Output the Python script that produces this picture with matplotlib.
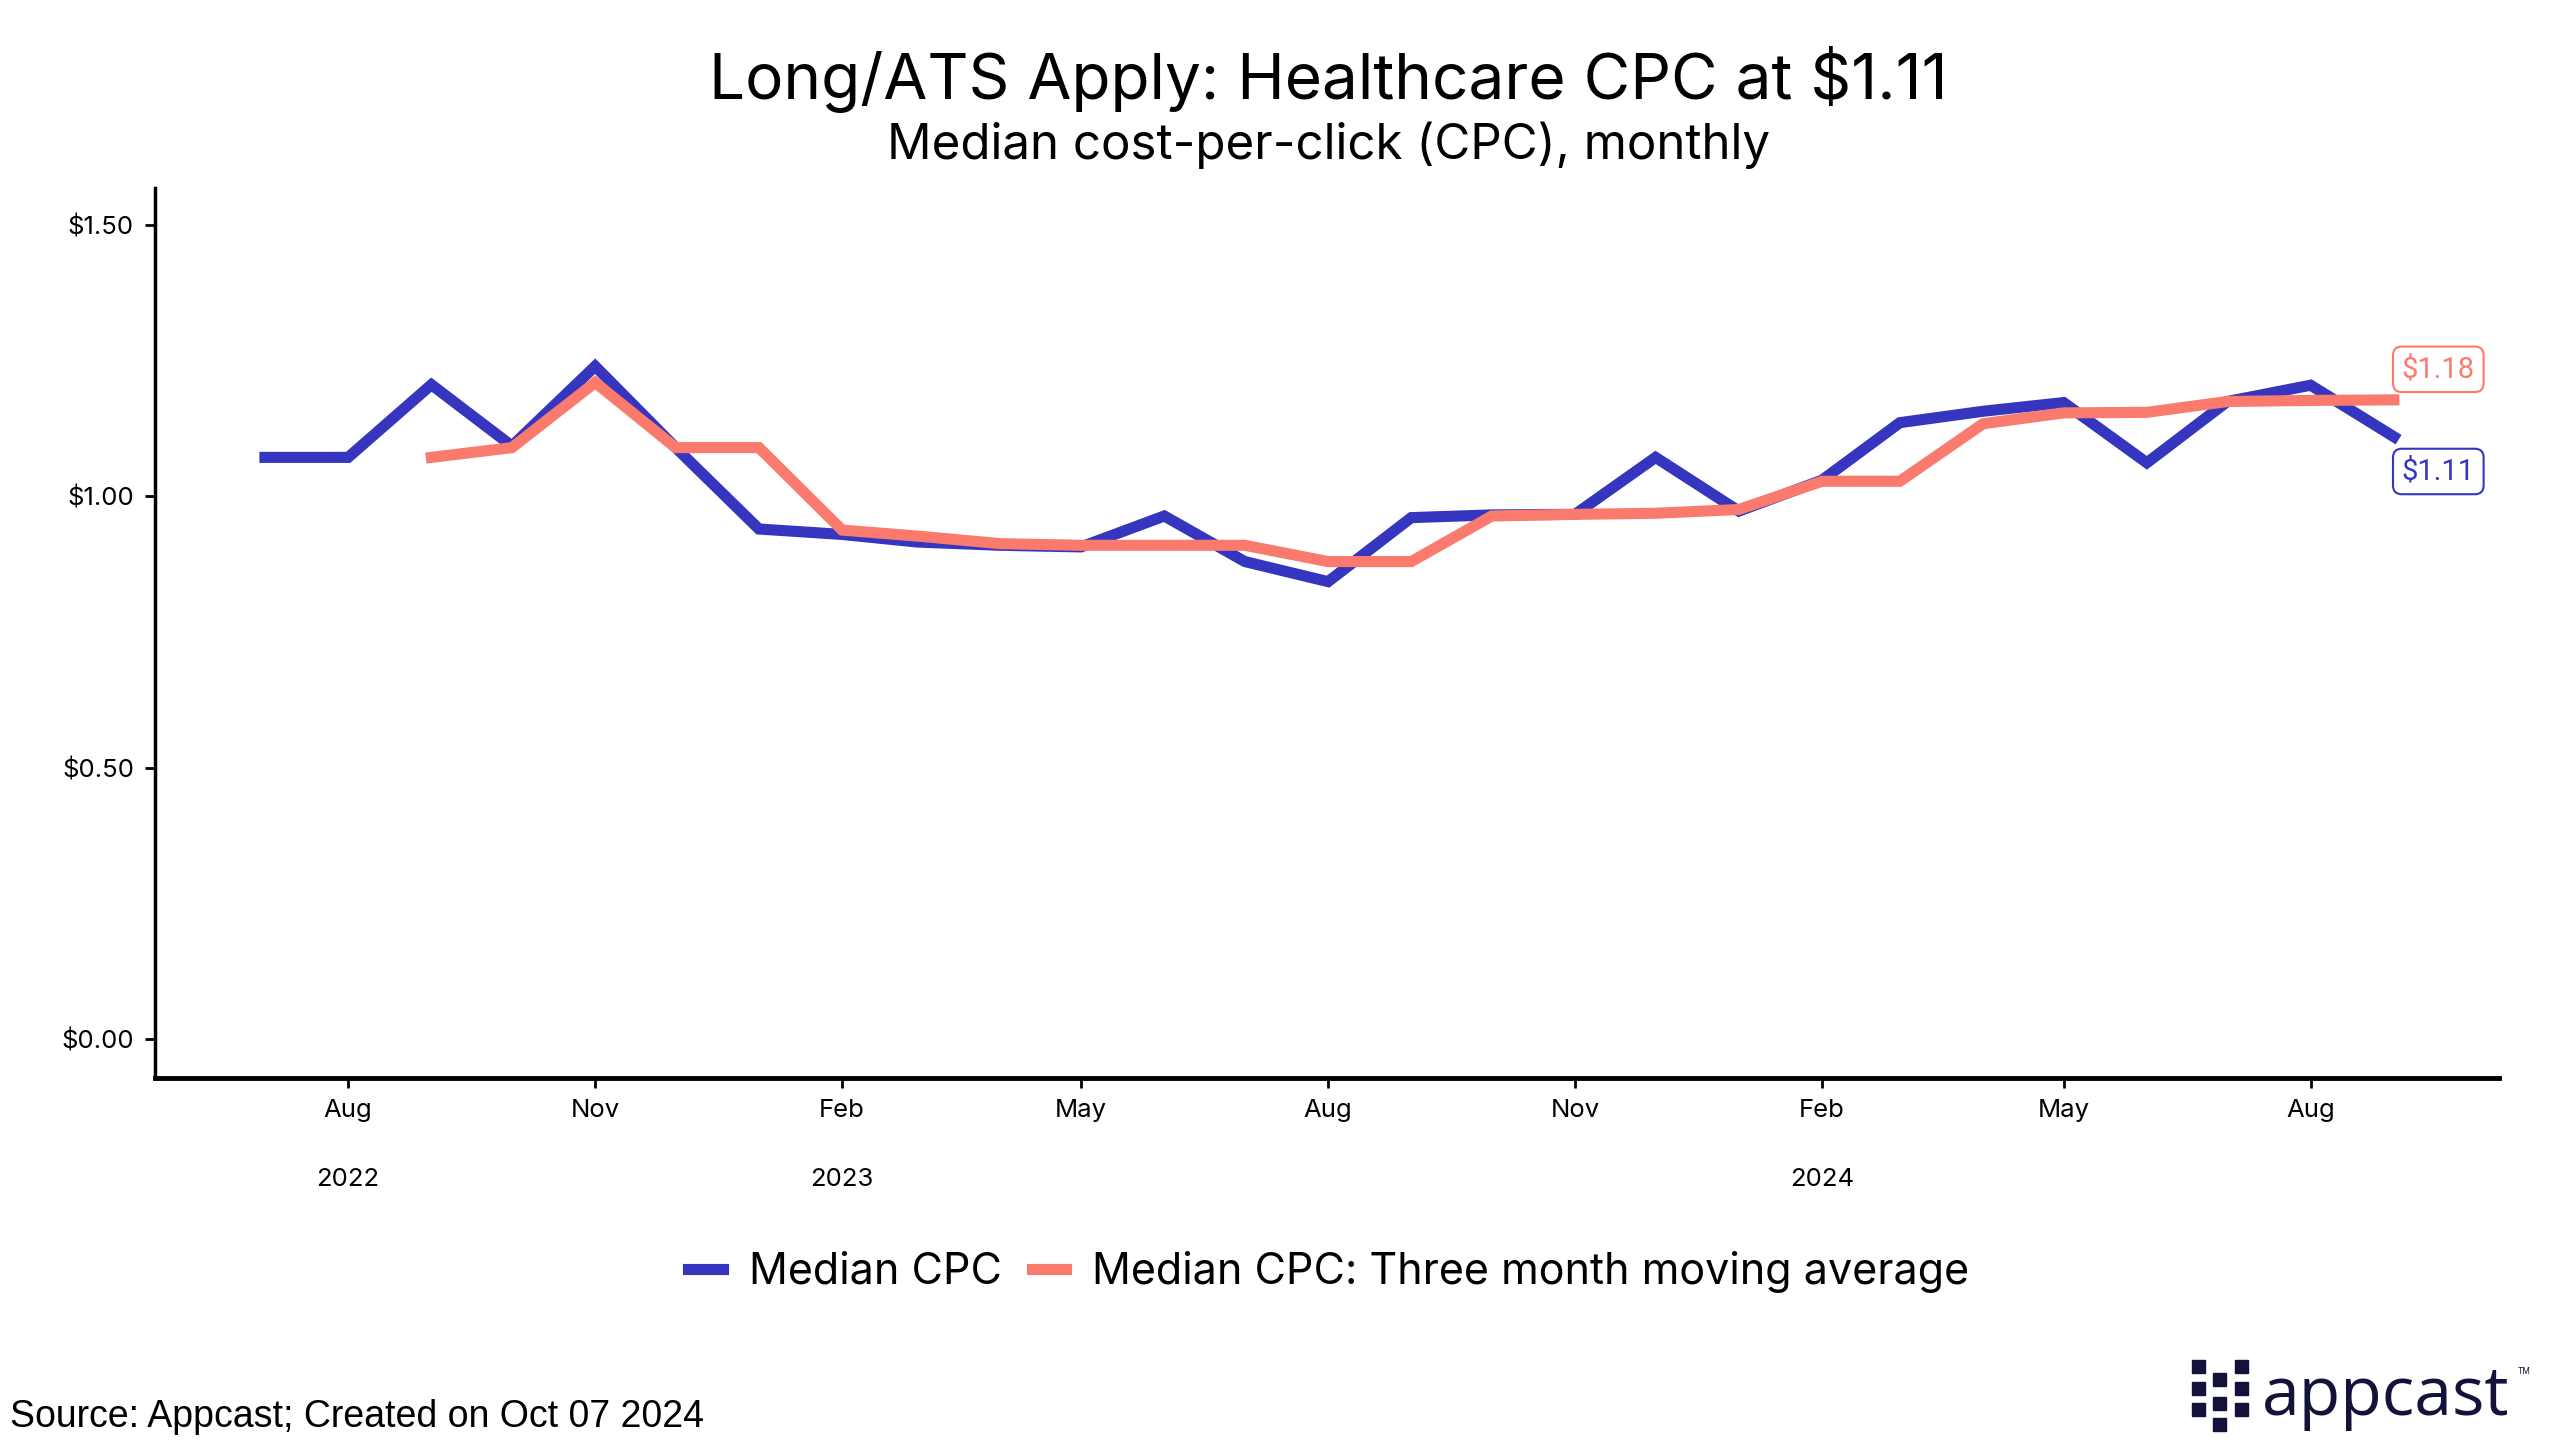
import numpy as np
import pandas as pd
import matplotlib
matplotlib.use("Agg")
import matplotlib.pyplot as plt
from matplotlib.patches import Rectangle

# monthly data, Jul 2022 - Sep 2024
months = pd.date_range("2022-07-01", periods=27, freq="MS")

median_cpc = [1.072, 1.072, 1.206, 1.093, 1.240, 1.090, 0.940, 0.930, 0.916, 0.910,
              0.907, 0.964, 0.880, 0.843, 0.961, 0.966, 0.967, 1.072, 0.973, 1.030,
              1.136, 1.157, 1.173, 1.062, 1.175, 1.205, 1.11]

moving_avg = [np.nan, np.nan, 1.072, 1.090, 1.210, 1.090, 1.090, 0.938, 0.927, 0.913,
              0.910, 0.910, 0.910, 0.880, 0.880, 0.964, 0.967, 0.969, 0.976, 1.028,
              1.028, 1.134, 1.154, 1.155, 1.175, 1.177, 1.178]

tick_months = ["2022-08", "2022-11", "2023-02", "2023-05", "2023-08",
               "2023-11", "2024-02", "2024-05", "2024-08"]
tick_labels = ["Aug", "Nov", "Feb", "May", "Aug", "Nov", "Feb", "May", "Aug"]
year_months = ["2022-08", "2023-02", "2024-02"]
year_labels = ["2022", "2023", "2024"]

blue = "#3535C0"
salmon = "#FA7B6D"
navy = "#12123A"

plt.rcParams["font.family"] = ["Inter", "DejaVu Sans"]

fig = plt.figure(figsize=(25.6, 14.55), dpi=100)
ax = fig.add_axes([0.0605, 0.259, 0.9155, 0.612])

ax.plot(months, median_cpc, color=blue, lw=8, solid_joinstyle="miter", label="Median CPC")
ax.plot(months, moving_avg, color=salmon, lw=8, solid_joinstyle="miter",
        label="Median CPC: Three month moving average")

ax.set_ylim(-0.072, 1.569)
ax.set_xlim(pd.Timestamp("2022-05-21"), pd.Timestamp("2024-10-10"))
ax.set_yticks([0, 0.5, 1.0, 1.5])
ax.set_yticklabels(["$0.00", "$0.50", "$1.00", "$1.50"])
ax.set_xticks(pd.to_datetime(tick_months))
ax.set_xticklabels(tick_labels)

for s in ["top", "right"]:
    ax.spines[s].set_visible(False)
ax.spines["left"].set_linewidth(2.5)
ax.spines["bottom"].set_linewidth(3.5)
ax.tick_params(axis="both", length=7, width=2, labelsize=18.5, pad=8)

for m, y in zip(year_months, year_labels):
    ax.text(pd.Timestamp(m), -0.114, y, transform=ax.get_xaxis_transform(),
            ha="center", va="center", fontsize=18.5)

# end labels
ax.annotate("$%.2f" % moving_avg[-1], xy=(months[-1], moving_avg[-1]),
            xytext=(32, 22), textcoords="offset points", ha="center", va="center",
            color=salmon, fontsize=21, family=["Roboto", "DejaVu Sans"],
            bbox=dict(boxstyle="round,pad=0.3,rounding_size=0.3", fc="white", ec=salmon, lw=1.5))
ax.annotate("$%.2f" % median_cpc[-1], xy=(months[-1], median_cpc[-1]),
            xytext=(32, -25), textcoords="offset points", ha="center", va="center",
            color=blue, fontsize=21, family=["Roboto", "DejaVu Sans"],
            bbox=dict(boxstyle="round,pad=0.3,rounding_size=0.3", fc="white", ec=blue, lw=1.5))

fig.text(0.519, 0.946, "Long/ATS Apply: Healthcare CPC at $1.11", ha="center", va="center",
         fontsize=46)
fig.text(0.519, 0.900, "Median cost-per-click (CPC), monthly", ha="center", va="center",
         fontsize=35.5)

fig.legend(loc="center", bbox_to_anchor=(0.519, 0.126), ncol=2, frameon=False,
           fontsize=31, handlelength=0.8, handletextpad=0.6, columnspacing=0.7)

fig.text(0.004, 0.026, "Source: Appcast; Created on Oct 07 2024", ha="left", va="center",
         fontsize=27, family=["Liberation Sans", "DejaVu Sans"])

# appcast logo: checker of small squares + wordmark
sq = 13
col_x = [2192, 2213, 2235]
col_tops = [[1360, 1382, 1403], [1373, 1397, 1418], [1360, 1382, 1403]]
for cx, tops in zip(col_x, col_tops):
    for ty in tops:
        fig.patches.append(Rectangle((cx / 2560, 1 - (ty + sq) / 1455), sq / 2560, sq / 1455,
                                     transform=fig.transFigure, color=navy, zorder=3))
fig.text(2262 / 2560, 1 - 1415 / 1455, "appcast", ha="left", va="baseline", fontsize=49,
         color=navy, family=["Open Sans", "DejaVu Sans"])
fig.text(2518 / 2560, 1 - 1372 / 1455, "TM", ha="left", va="center", fontsize=6, color=navy)

plt.savefig("out.png", dpi=100)
